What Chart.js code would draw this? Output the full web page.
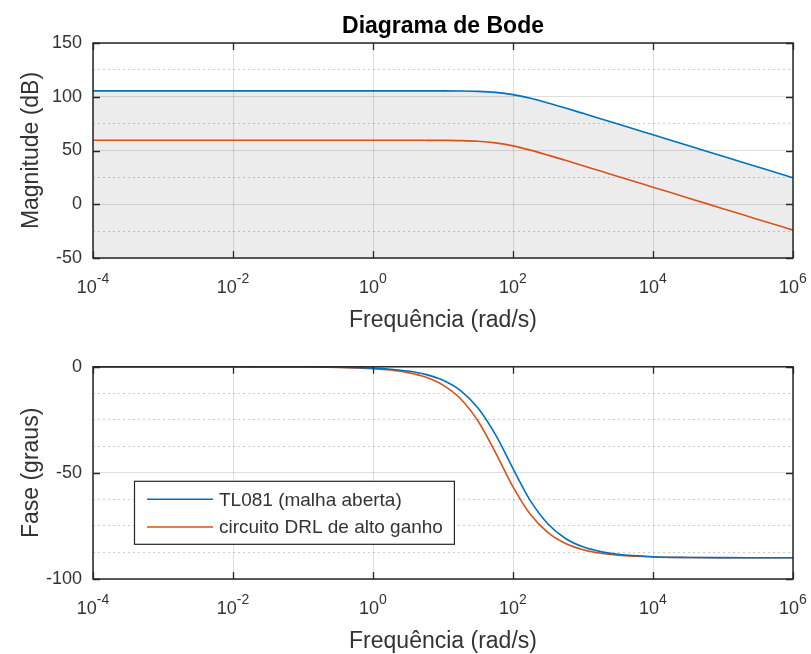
<!DOCTYPE html>
<html><head><meta charset="utf-8">
<script src="https://cdn.jsdelivr.net/npm/chart.js@4.4.1/dist/chart.umd.min.js"></script>
<style>
html,body{margin:0;padding:0;background:#fff;overflow:hidden;width:811px;height:654px;}
#c1{position:absolute;left:0;top:0;}
#c2{position:absolute;left:0;top:345px;}
</style></head><body>
<canvas id="c1" width="811" height="345"></canvas>
<canvas id="c2" width="811" height="310"></canvas>
<script>
// ---- data ----
const frequencies = [1e-4, 1e-3, 1e-2, 0.1, 0.3162, 1, 1.778, 3.162, 5.623, 10, 17.78, 31.62, 56.23, 100, 177.8, 316.2, 562.3, 1000, 1778, 3162, 10000, 31620, 100000, 316200, 1000000];
const magTL081 = [105.5, 105.5, 105.5, 105.5, 105.5, 105.5, 105.5, 105.49, 105.48, 105.45, 105.33, 104.99, 104.07, 102.01, 98.59, 94.24, 89.47, 84.55, 79.57, 74.58, 64.58, 54.58, 44.58, 34.58, 24.58];
const magDRL = [59.5, 59.5, 59.5, 59.5, 59.5, 59.5, 59.5, 59.49, 59.47, 59.40, 59.20, 58.61, 57.13, 54.33, 50.34, 45.71, 40.84, 35.88, 30.89, 25.90, 15.90, 5.90, -4.10, -14.10, -24.10];
const phaseTL081 = [0, 0, -0.01, -0.06, -0.2, -0.64, -1.13, -2.01, -3.58, -6.34, -11.18, -19.37, -32.0, -48.0, -63.2, -74.1, -80.9, -84.86, -87.1, -88.37, -89.48, -89.84, -89.95, -89.98, -89.99];
const phaseDRL = [0, 0, -0.01, -0.09, -0.27, -0.87, -1.54, -2.74, -4.86, -8.61, -15.07, -25.57, -40.4, -56.55, -69.62, -78.2, -83.3, -86.22, -87.87, -88.8, -89.62, -89.88, -89.96, -89.99, -90.0];
const seriesNames = ['TL081 (malha aberta)', 'circuito DRL de alto ganho'];
const xTickValues = [1e-4, 1e-2, 1, 1e2, 1e4, 1e6];
const xTickExponents = ['-4', '-2', '0', '2', '4', '6'];
const magTicks = [-50, 0, 50, 100, 150];
const phaseTicks = [-100, -50, 0];

// ---- styling ----
const FONT = "'Liberation Sans', Arial, Helvetica, sans-serif";
const TEXT = '#333333';
const FRAME = '#262626';
const BLUE = '#0072BD';
const ORANGE = '#D95319';

const pts = ys => frequencies.map((f, i) => ({x: f, y: ys[i]}));

const framePlugin = {
  id: 'frame',
  afterDatasetsDraw(chart, args, opts) {
    const {ctx, chartArea: a} = chart;
    const xs = chart.scales.x, ys = chart.scales.y;
    ctx.save();
    ctx.strokeStyle = FRAME;
    ctx.lineWidth = 1.5;
    ctx.strokeRect(a.left, a.top, a.right - a.left, a.bottom - a.top);
    ctx.lineWidth = 1.3;
    ctx.beginPath();
    xTickValues.forEach(v => {
      const px = Math.round(xs.getPixelForValue(v)) + 0.5;
      ctx.moveTo(px, a.bottom); ctx.lineTo(px, a.bottom - 7);
      ctx.moveTo(px, a.top); ctx.lineTo(px, a.top + 7);
    });
    (opts.yMajor || []).forEach(v => {
      const py = Math.round(ys.getPixelForValue(v)) + 0.5;
      ctx.moveTo(a.left, py); ctx.lineTo(a.left + 7, py);
      ctx.moveTo(a.right, py); ctx.lineTo(a.right - 7, py);
    });
    ctx.stroke();
    // x tick labels 10^n
    ctx.fillStyle = TEXT;
    ctx.textBaseline = 'alphabetic';
    ctx.textAlign = 'left';
    xTickValues.forEach((v, i) => {
      const px = xs.getPixelForValue(v);
      ctx.font = '18px ' + FONT;
      const bw = ctx.measureText('10').width;
      ctx.font = '14px ' + FONT;
      const ew = ctx.measureText(xTickExponents[i]).width;
      const x0 = px - (bw + ew) / 2;
      ctx.font = '18px ' + FONT;
      ctx.fillText('10', x0, a.bottom + 35);
      ctx.font = '14px ' + FONT;
      ctx.fillText(xTickExponents[i], x0 + bw, a.bottom + 25);
    });
    if (opts.title) {
      ctx.font = 'bold 23px ' + FONT;
      ctx.fillStyle = '#000';
      ctx.textAlign = 'center';
      ctx.fillText(opts.title, (a.left + a.right) / 2, a.top - 10);
    }
    ctx.restore();
  }
};

const legendPlugin = {
  id: 'insideLegend',
  afterDatasetsDraw(chart, args, opts) {
    if (!opts.show) return;
    const {ctx, chartArea: a} = chart;
    const ds = chart.data.datasets;
    ctx.save();
    ctx.font = '19px ' + FONT;
    let maxW = 0;
    ds.forEach(d => { maxW = Math.max(maxW, ctx.measureText(d.label).width); });
    const bx = a.left + 41, by = a.top + 114;
    const bw = 85 + maxW + 11, bh = 63;
    ctx.fillStyle = '#fff';
    ctx.fillRect(bx, by, bw, bh);
    ctx.strokeStyle = FRAME;
    ctx.lineWidth = 1.2;
    ctx.strokeRect(bx + 0.5, by + 0.5, bw, bh);
    ds.forEach((d, i) => {
      const cy = by + 18.5 + i * 27.7;
      ctx.strokeStyle = d.borderColor;
      ctx.lineWidth = 1.6;
      ctx.beginPath();
      ctx.moveTo(bx + 13, cy); ctx.lineTo(bx + 79, cy);
      ctx.stroke();
      ctx.fillStyle = TEXT;
      ctx.textBaseline = 'middle';
      ctx.textAlign = 'left';
      ctx.fillText(d.label, bx + 85, cy + 1);
    });
    ctx.restore();
  }
};

function makeOptions(cfg) {
  return {
    responsive: false,
    animation: false,
    layout: {padding: {top: cfg.padTop, right: 18, left: 0, bottom: 0}},
    elements: {point: {radius: 0}, line: {borderWidth: 1.6, cubicInterpolationMode: 'monotone'}},
    plugins: {
      legend: {display: false},
      tooltip: {enabled: false},
      filler: {drawTime: 'beforeDatasetsDraw'},
      frame: {yMajor: cfg.yMajor, title: cfg.title},
      insideLegend: {show: cfg.legend}
    },
    scales: {
      x: {
        type: 'logarithmic',
        min: 1e-4, max: 1e6,
        afterBuildTicks: s => { s.ticks = xTickValues.map(v => ({value: v})); },
        afterFit: s => { s.height = cfg.xHeight; },
        ticks: {display: false},
        grid: {color: 'rgba(0,0,0,0.13)', lineWidth: 1, drawTicks: false},
        border: {display: false},
        title: {display: true, text: 'Frequência (rad/s)', color: TEXT,
                font: {family: FONT, size: 23}, padding: {top: 0, bottom: cfg.xTitlePad}}
      },
      y: {
        min: cfg.ymin, max: cfg.ymax,
        afterFit: s => { s.width = 93; },
        ticks: {
          stepSize: cfg.step, autoSkip: false, padding: 11, color: TEXT,
          font: {family: FONT, size: 18},
          callback: v => cfg.yMajor.includes(v) ? String(v) : ''
        },
        grid: {
          drawTicks: false, lineWidth: 1,
          color: c => (c.tick && cfg.yMajor.includes(c.tick.value)) ? 'rgba(0,0,0,0.13)' : 'rgba(0,0,0,0.2)'
        },
        border: {
          display: false,
          dash: c => (c.tick && cfg.yMajor.includes(c.tick.value)) ? [] : [2, 3]
        },
        title: {display: true, text: cfg.yTitle, color: TEXT,
                font: {family: FONT, size: 23}, padding: {top: 18, bottom: 0}}
      }
    }
  };
}

new Chart(document.getElementById('c1'), {
  type: 'line',
  data: {datasets: [
    {label: seriesNames[0], data: pts(magTL081), borderColor: BLUE, backgroundColor: 'rgba(0,0,0,0.075)', fill: 'start'},
    {label: seriesNames[1], data: pts(magDRL), borderColor: ORANGE, fill: false}
  ]},
  options: makeOptions({padTop: 43, xHeight: 87, xTitlePad: 11, ymin: -50, ymax: 150, step: 25,
    yMajor: magTicks, yTitle: 'Magnitude (dB)', title: 'Diagrama de Bode', legend: false}),
  plugins: [framePlugin, legendPlugin]
});

new Chart(document.getElementById('c2'), {
  type: 'line',
  data: {datasets: [
    {label: seriesNames[0], data: pts(phaseTL081), borderColor: BLUE, fill: false},
    {label: seriesNames[1], data: pts(phaseDRL), borderColor: ORANGE, fill: false}
  ]},
  options: makeOptions({padTop: 21, xHeight: 76, xTitlePad: 0, ymin: -100, ymax: 0, step: 12.5,
    yMajor: phaseTicks, yTitle: 'Fase (graus)', title: '', legend: true}),
  plugins: [framePlugin, legendPlugin]
});
</script>
</body></html>
